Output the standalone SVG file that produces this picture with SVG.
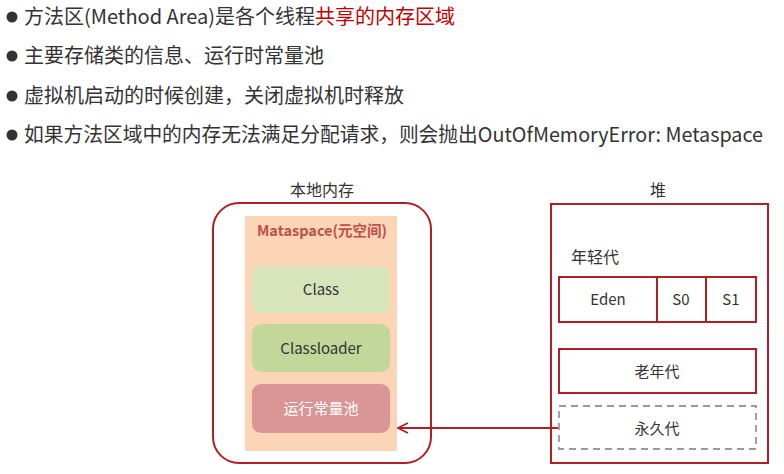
<svg xmlns="http://www.w3.org/2000/svg" width="784" height="474" viewBox="0 0 784 474">
<style>
.t{font-family:"Noto Sans CJK SC","Noto Sans",sans-serif;fill:#333333}
.b{font-size:20px}
.red{fill:#C00000}
.d{font-size:15px;text-anchor:middle}
.frame{fill:none;stroke:#B01F24;stroke-width:2}
.cell{fill:#FFFFFF;stroke:#B01F24;stroke-width:2}
.bul{fill:#333333}
</style>
<defs>
<marker id="arr" viewBox="0 0 12 12" refX="11" refY="6" markerWidth="12" markerHeight="12" markerUnits="userSpaceOnUse" orient="auto">
<path d="M1,1 L11,6 L1,11" fill="none" stroke="#B01F24" stroke-width="1.8"/>
</marker>
</defs>
<rect width="784" height="474" fill="#FFFFFF"/>
<g id="bullets">
<circle class="bul" cx="12" cy="17" r="5.5"/>
<text class="t b" x="24" y="24">方法区(Method Area)是各个线程<tspan class="red">共享的内存区域</tspan></text>
<circle class="bul" cx="12" cy="56" r="5.5"/>
<text class="t b" x="24" y="63">主要存储类的信息、运行时常量池</text>
<circle class="bul" cx="12" cy="96" r="5.5"/>
<text class="t b" x="24" y="103">虚拟机启动的时候创建，关闭虚拟机时释放</text>
<circle class="bul" cx="12" cy="135" r="5.5"/>
<text class="t b" x="24" y="142" textLength="739" lengthAdjust="spacingAndGlyphs">如果方法区域中的内存无法满足分配请求，则会抛出OutOfMemoryError: Metaspace</text>
</g>
<g id="native">
<text class="t" x="322" y="196" font-size="16" text-anchor="middle">本地内存</text>
<rect class="frame" x="213" y="203" width="218" height="260" rx="26"/>
</g>
<g id="metaspace">
<rect x="245" y="216" width="152" height="235" fill="#FBD5B5"/>
<text class="t" x="322" y="236" font-size="14.5" font-weight="bold" text-anchor="middle" style="fill:#C0504D">Mataspace(元空间)</text>
</g>
<g id="class">
<rect x="252" y="266" width="138" height="47" rx="9" fill="#D8E4BC"/>
<text class="t d" x="321" y="295">Class</text>
</g>
<g id="classloader">
<rect x="252" y="324" width="138" height="48" rx="9" fill="#C4D79B"/>
<text class="t d" x="321" y="354">Classloader</text>
</g>
<g id="pool">
<rect x="252" y="384" width="138" height="49" rx="9" fill="#DA9694"/>
<text class="t d" x="321" y="414" style="fill:#FFFFFF">运行常量池</text>
</g>
<g id="heap">
<text class="t" x="658" y="196" font-size="16" text-anchor="middle">堆</text>
<rect class="frame" x="551" y="204" width="217" height="259"/>
<text class="t" x="571" y="263" font-size="16">年轻代</text>
</g>
<g id="young">
<rect class="cell" x="559" y="277" width="98" height="45"/>
<text class="t d" x="608" y="305">Eden</text>
<rect class="cell" x="657" y="277" width="49" height="45"/>
<text class="t d" x="681" y="305">S0</text>
<rect class="cell" x="706" y="277" width="50" height="45"/>
<text class="t d" x="731" y="305">S1</text>
</g>
<g id="old">
<rect class="cell" x="559" y="349" width="197" height="44"/>
<text class="t d" x="657" y="377">老年代</text>
</g>
<g id="perm">
<rect x="559" y="406" width="197" height="43" fill="none" stroke="#999999" stroke-width="1.8" stroke-dasharray="7,5"/>
<text class="t d" x="657" y="434">永久代</text>
</g>
<g id="connectors">
<line x1="558" y1="428" x2="398" y2="428" stroke="#B01F24" stroke-width="1.8" marker-end="url(#arr)"/>
</g>
</svg>
